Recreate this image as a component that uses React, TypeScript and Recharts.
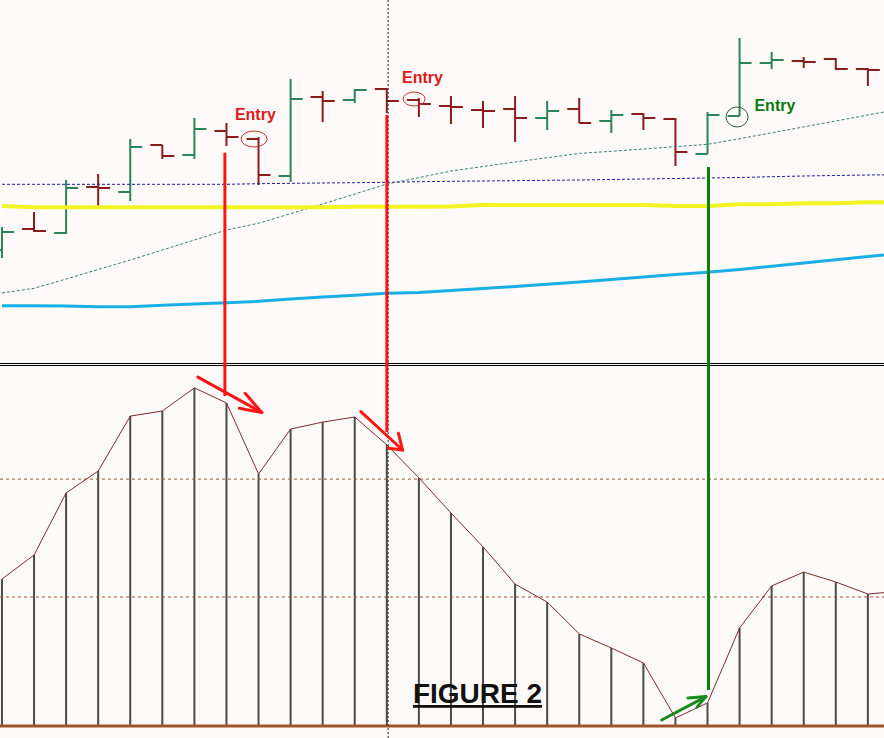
import { ComposedChart, Bar, Line, XAxis, YAxis, ReferenceLine, ReferenceDot } from 'recharts'

// price bars (index 0..27), values
const OPEN = [150, 171, 167, 213, 208, 255, 245, 269, 261, 224, 303, 300, 311, 300, 294, 290, 291, 282, 291, 279, 286, 281, 246, 284, 337, 339, 341, 331]
const HIGH = [173, 188, 220, 226, 261, 255, 282, 277, 263, 321, 309, 311, 312, 302, 304, 299, 304, 299, 302, 290, 287, 282, 288, 362, 348, 343, 342, 332]
const LOW = [142, 168, 166, 194, 199, 241, 241, 254, 215, 218, 278, 297, 287, 283, 276, 272, 258, 270, 277, 267, 270, 234, 246, 284, 331, 332, 330, 314]
const CLOSE = [168, 169, 212, 212, 253, 244, 271, 263, 225, 301, 299, 310, 299, 296, 293, 289, 282, 289, 277, 285, 282, 248, 285, 337, 340, 338, 331, 330]

// moving averages (one extra point runs off the right edge)
const YELLOW_MA = [194, 192.7, 192.7, 192.7, 192.7, 192.7, 192.7, 192.7, 192.7, 192.7, 192.8, 193.3, 193.3, 193.3, 193.4, 195, 195, 195, 195, 195, 194.9, 194, 194, 195.7, 195.8, 196.7, 196.8, 197.7, 198]
const CYAN_MA = [94.3, 94.3, 94, 93.3, 93.3, 94.7, 96, 97.3, 98.7, 101, 103, 104.7, 106.7, 107.5, 109.5, 111.5, 113.5, 115.7, 118, 120.5, 123, 125.4, 127.7, 130.6, 133.8, 137, 140.2, 143.4, 146.6]
const TEAL_MA = [107, 111.7, 121, 130.5, 140, 150, 160, 170, 176.8, 186.3, 196, 206, 216, 222.4, 229, 233.5, 238, 242.3, 246.6, 248.7, 251, 253.3, 255.7, 261.3, 267.2, 273.1, 279, 285, 291]
const NAVY_MA = [215.7, 215.7, 215.7, 215.7, 215.7, 215.7, 215.7, 215.7, 216.3, 216.7, 217, 217.3, 217.7, 218.3, 218.7, 219, 219.3, 219.7, 220, 220.5, 221, 221.5, 222, 222.5, 223.3, 224, 224.5, 225, 225.3]

// oscillator in the lower pane
const OSC = [49, 57, 77.7, 85, 103.3, 105, 112.7, 107.7, 84, 99, 101.3, 103, 93.7, 82.7, 71, 59.7, 47.3, 41.3, 30.7, 26, 21, 2.7, 7.7, 32.7, 46.7, 51.3, 48, 44, 44.9]
const OSC_LEVELS = [82.3, 43]

const CURSOR_BAR = 12.04

// annotations, in bar index / price / oscillator units
const SIGNALS = [
  { i: 6.95, fromPrice: 247.3, toOsc: 110, color: '#ff1414' },
  { i: 12, fromPrice: 285, toOsc: 98, color: '#ff1414' },
  { i: 22.03, fromPrice: 233, toOsc: 12, color: '#0a820a' },
]
const ARROWS = [
  { tail: [6.11, 116.3], tip: [8.1, 104.5], barbs: [[7.58, 110.9], [7.4, 105.9]], color: '#ff1414' },
  { tail: [11.19, 104.8], tip: [12.49, 92], barbs: [[12.36, 97.6], [12.05, 92.6]], color: '#ff1414' },
  { tail: [20.57, 2], tip: [21.95, 9.8], barbs: [[21.39, 9.3], [21.67, 6.3]], color: '#1a8a1a' },
]
const ENTRIES = [
  { i: 7.86, price: 261, rx: 13, ry: 8, labelI: 7.9, labelPrice: 280, color: '#e01818', ring: '#d03030' },
  { i: 12.85, price: 301, rx: 11, ry: 7, labelI: 13.11, labelPrice: 317, color: '#e01818', ring: '#d03030' },
  { i: 22.92, price: 283, rx: 11, ry: 10, labelI: 24.1, labelPrice: 289, color: '#0a7a0a', ring: '#2e5e3e' },
]

const RED_BAR = '#8b1c1c'
const GREEN_BAR = '#2a8458'

const X_DOMAIN: [number, number] = [-0.0624, 27.502]
const PRICE_DOMAIN: [number, number] = [34, 400]
const OSC_DOMAIN: [number, number] = [-4, 120]

const priceData = YELLOW_MA.map((_, i) => ({
  i,
  open: OPEN[i],
  high: HIGH[i],
  low: LOW[i],
  close: CLOSE[i],
  yellow: YELLOW_MA[i],
  cyan: CYAN_MA[i],
  teal: TEAL_MA[i],
  navy: NAVY_MA[i],
}))

const oscData = OSC.map((v, i) => ({ i, osc: v, stick: i < OPEN.length ? v : null }))

function OhlcShape(props: any) {
  const { x, y, width, height, payload } = props
  if (!payload || payload.open == null || !height) return <g />
  const top = Math.min(y, y + height)
  const h = Math.abs(height)
  const cx = x + width / 2
  const py = (p: number) => top + ((payload.high - p) / (payload.high - payload.low)) * h
  const c = payload.close >= payload.open ? GREEN_BAR : RED_BAR
  return (
    <g stroke={c} strokeWidth={2}>
      <line x1={cx} x2={cx} y1={top} y2={top + h} />
      <line x1={cx - 12} x2={cx} y1={py(payload.open)} y2={py(payload.open)} />
      <line x1={cx} x2={cx + 12} y1={py(payload.close)} y2={py(payload.close)} />
    </g>
  )
}

function StickShape(props: any) {
  const { x, y, width, height, payload } = props
  if (!payload || payload.stick == null) return <g />
  const cx = x + width / 2
  return <line x1={cx} x2={cx} y1={y} y2={y + height} stroke="#4a4a4a" strokeWidth={2} />
}

export default function App() {
  return (
    <div
      style={{
        position: 'absolute',
        left: 0,
        top: 0,
        width: 884,
        height: 738,
        background: '#fffafa',
        overflow: 'hidden',
        fontFamily: '"Liberation Sans", Arial, sans-serif',
      }}
    >
      {/* pane separator */}
      <div style={{ position: 'absolute', left: 0, top: 363, width: 884, height: 1, background: '#000' }} />
      <div style={{ position: 'absolute', left: 0, top: 365, width: 884, height: 1, background: '#000' }} />

      {/* price pane */}
      <div style={{ position: 'absolute', left: 0, top: 0 }}>
        <ComposedChart
          width={884}
          height={366}
          data={priceData}
          margin={{ top: 0, right: 0, bottom: 0, left: 0 }}
          accessibilityLayer={false}
        >
          <XAxis dataKey="i" type="number" domain={X_DOMAIN} allowDataOverflow hide />
          <YAxis type="number" domain={PRICE_DOMAIN} allowDataOverflow hide />
          <Line dataKey="navy" stroke="#1a1aa6" strokeWidth={1} strokeDasharray="3 2" dot={false} activeDot={false} isAnimationActive={false} />
          <Line dataKey="teal" stroke="#3a7c78" strokeWidth={1} strokeDasharray="3 2" dot={false} activeDot={false} isAnimationActive={false} />
          <Line dataKey="cyan" stroke="#18aee6" strokeWidth={3} dot={false} activeDot={false} isAnimationActive={false} />
          <Line dataKey="yellow" stroke="#f4f422" strokeWidth={4} dot={false} activeDot={false} isAnimationActive={false} />
          <Bar
            dataKey={(d: any) => (d.open == null ? null : [d.low, d.high])}
            barSize={12}
            shape={OhlcShape}
            isAnimationActive={false}
          />
          <ReferenceLine x={CURSOR_BAR} stroke="#222" strokeDasharray="2 2" />
          {SIGNALS.map((s, k) => (
            <ReferenceLine
              key={'s' + k}
              segment={[{ x: s.i, y: s.fromPrice }, { x: s.i, y: PRICE_DOMAIN[0] }]}
              stroke={s.color}
              strokeWidth={3}
            />
          ))}
          {ENTRIES.map((e, k) => (
            <ReferenceDot
              key={'c' + k}
              x={e.i}
              y={e.price}
              shape={(p: any) => <ellipse cx={p.cx} cy={p.cy} rx={e.rx} ry={e.ry} fill="none" stroke={e.ring} strokeWidth={1} />}
            />
          ))}
          {ENTRIES.map((e, k) => (
            <ReferenceDot
              key={'t' + k}
              x={e.labelI}
              y={e.labelPrice}
              shape={(p: any) => (
                <text
                  x={p.cx}
                  y={p.cy}
                  textAnchor="middle"
                  fontSize={16}
                  fontWeight="bold"
                  fill={e.color}
                  fontFamily='"Liberation Sans", Arial, sans-serif'
                >
                  Entry
                </text>
              )}
            />
          ))}
        </ComposedChart>
      </div>

      {/* oscillator pane */}
      <div style={{ position: 'absolute', left: 0, top: 366 }}>
        <ComposedChart
          width={884}
          height={372}
          data={oscData}
          margin={{ top: 0, right: 0, bottom: 0, left: 0 }}
          accessibilityLayer={false}
        >
          <XAxis dataKey="i" type="number" domain={X_DOMAIN} allowDataOverflow hide />
          <YAxis type="number" domain={OSC_DOMAIN} allowDataOverflow hide />
          {OSC_LEVELS.map((v) => (
            <ReferenceLine key={v} y={v} stroke="#a0522d" strokeDasharray="3 3" />
          ))}
          <Bar dataKey="stick" barSize={12} shape={StickShape} isAnimationActive={false} />
          <Line dataKey="osc" type="linear" stroke="#7e2a2a" strokeWidth={1} dot={false} activeDot={false} isAnimationActive={false} />
          <ReferenceLine y={0} stroke="#a0522d" strokeWidth={3} />
          <ReferenceLine x={CURSOR_BAR} stroke="#222" strokeDasharray="2 2" />
          {SIGNALS.map((s, k) => (
            <ReferenceLine
              key={'s' + k}
              segment={[{ x: s.i, y: OSC_DOMAIN[1] }, { x: s.i, y: s.toOsc }]}
              stroke={s.color}
              strokeWidth={3}
            />
          ))}
          {ARROWS.map((a, k) => (
            <g key={'a' + k}>
              <ReferenceLine
                segment={[{ x: a.tail[0], y: a.tail[1] }, { x: a.tip[0], y: a.tip[1] }]}
                stroke={a.color}
                strokeWidth={3}
                strokeLinecap="round"
              />
              {a.barbs.map((b, j) => (
                <ReferenceLine
                  key={j}
                  segment={[{ x: b[0], y: b[1] }, { x: a.tip[0], y: a.tip[1] }]}
                  stroke={a.color}
                  strokeWidth={3}
                  strokeLinecap="round"
                />
              ))}
            </g>
          ))}
        </ComposedChart>
      </div>

      <svg width={884} height={738} style={{ position: 'absolute', left: 0, top: 0, pointerEvents: 'none' }}>
        <text
          x={477.5}
          y={703}
          textAnchor="middle"
          fontSize={28}
          fontWeight="bold"
          fill="#111"
          textDecoration="underline"
          fontFamily='"Liberation Sans", Arial, sans-serif'
        >
          FIGURE 2
        </text>
      </svg>
    </div>
  )
}
